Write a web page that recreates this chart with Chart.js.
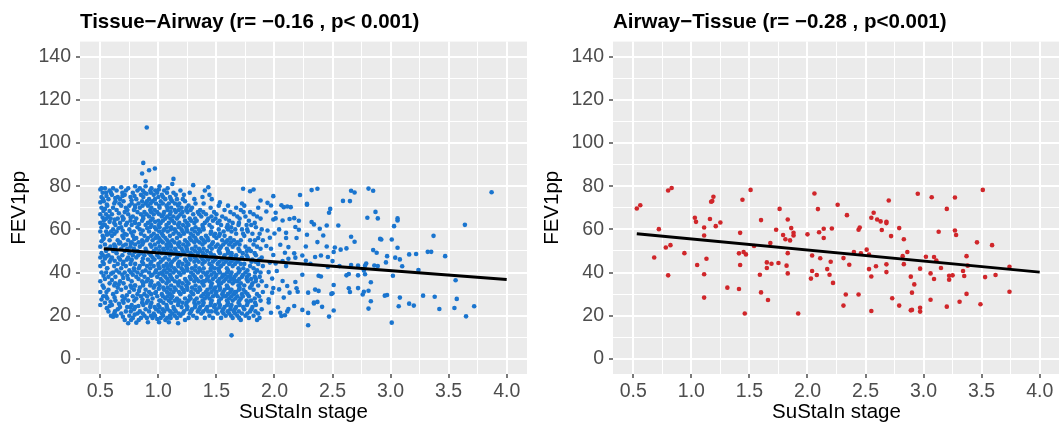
<!DOCTYPE html>
<html>
<head>
<meta charset="utf-8">
<script src="https://cdn.jsdelivr.net/npm/chart.js@4.4.1/dist/chart.umd.min.js"></script>
<style>
  html, body { margin: 0; padding: 0; background: #fff; overflow: hidden; width: 1059px; height: 426px; }
  canvas { position: absolute; top: 0; }
  #tissueChart { left: 0; }
  #airwayChart { left: 533px; }
</style>
</head>
<body>
<canvas id="tissueChart" width="532" height="426"></canvas>
<canvas id="airwayChart" width="532" height="426"></canvas>
<script>
// axis ticks (major + minor grid)
const xGrid = [0.5, 0.75, 1, 1.25, 1.5, 1.75, 2, 2.25, 2.5, 2.75, 3, 3.25, 3.5, 3.75, 4];
const xLabels = [0.5, 1, 1.5, 2, 2.5, 3, 3.5, 4];
const yGrid = [0, 10, 20, 30, 40, 50, 60, 70, 80, 90, 100, 110, 120, 130, 140];
const yLabels = [0, 20, 40, 60, 80, 100, 120, 140];

// fitted lines (start / end)
const fitX = [0.53, 4.0];
const tissueFit = [51.0, 36.8];
const airwayFit = [58.0, 40.2];

// Tissue-Airway subjects [stage, FEV1pp]
const tissue = [
  [0.50,25],[0.51,27.5],[0.50,31],[0.52,34],[0.50,36],[0.51,40],[0.50,43],[0.52,45],[0.50,47],[0.51,49],[0.50,52],[0.51,54.5],[0.52,57],[0.50,59],[0.51,61],[0.50,63],[0.52,65.5],[0.50,67],[0.51,70],[0.50,72.5],[0.51,75],[0.52,77],[0.50,78.5],[0.51,79],
  [0.54,26],[0.55,29],[0.53,33],[0.54,37],[0.55,40],[0.53,44],[0.54,46.5],[0.55,50],[0.54,53],[0.53,56],[0.55,59],[0.54,62],[0.53,64],[0.55,67],[0.54,69.5],[0.53,73],[0.55,77],[0.54,79],
  [0.57,22],[0.58,24.5],[0.56,28],[0.57,32],[0.58,35],[0.57,38],[0.56,42],[0.58,45],[0.57,48],[0.56,51],[0.58,55],[0.57,58],[0.56,61],[0.58,63.5],[0.57,66],[0.58,68.5],[0.56,71],[0.57,74],[0.58,78],
  [0.61,19.5],[0.62,21],[0.60,25],[0.61,30],[0.62,34],[0.60,36.5],[0.61,40],[0.62,43],[0.60,47],[0.61,50],[0.62,53],[0.60,57],[0.61,60],[0.62,63],[0.60,67],[0.61,70],[0.62,72],[0.60,76],[0.61,79],
  [0.64,20],[0.65,23],[0.63,27],[0.64,31],[0.65,33],[0.63,38],[0.64,41],[0.65,44],[0.64,49],[0.63,52],[0.65,55],[0.64,59],[0.63,62],[0.65,65],[0.64,69],[0.63,73],[0.65,75],[0.64,78],
  [0.68,21],[0.67,24],[0.69,29],[0.68,32],[0.67,36],[0.69,39],[0.68,42],[0.67,46],[0.69,48],[0.68,51],[0.67,54],[0.69,57],[0.68,61],[0.67,63],[0.69,66],[0.68,71],[0.67,74],[0.69,77],[0.68,79.5],
  [0.71,18],[0.72,22],[0.70,26],[0.71,28],[0.72,33],[0.70,35],[0.71,40],[0.72,43],[0.70,45],[0.71,50],[0.72,53],[0.70,56],[0.71,58],[0.72,62],[0.70,65],[0.71,68],[0.72,70],[0.70,73],[0.71,76],[0.72,78],
  [0.74,16.5],[0.75,20],[0.76,24],[0.74,27],[0.75,31],[0.76,34],[0.74,37],[0.75,41],[0.76,44],[0.74,47],[0.75,49],[0.76,52],[0.74,55],[0.75,60],[0.76,64],[0.74,67],[0.75,71],[0.76,75],[0.74,79],
  [0.78,19],[0.79,23],[0.77,25],[0.78,29],[0.79,32],[0.77,36],[0.78,39],[0.79,42],[0.77,46],[0.78,48],[0.79,51],[0.77,54],[0.78,57],[0.79,59],[0.77,62],[0.78,66],[0.79,69],[0.77,72],[0.78,77],
  [0.81,16.8],[0.82,21],[0.80,24],[0.81,28],[0.82,30],[0.80,34],[0.81,38],[0.82,40],[0.80,44],[0.81,47],[0.82,50],[0.80,53],[0.81,56],[0.82,61],[0.80,63],[0.81,65],[0.82,68],[0.80,71],[0.81,74],[0.82,78],[0.80,80],
  [0.85,19],[0.84,22],[0.86,26],[0.85,29],[0.84,33],[0.86,36],[0.85,39],[0.84,43],[0.86,45],[0.85,49],[0.84,52],[0.86,55],[0.85,58],[0.84,60],[0.86,64],[0.85,67],[0.84,70],[0.86,73],[0.85,76],[0.84,79],
  [0.88,20],[0.89,23],[0.87,25],[0.88,30],[0.89,32],[0.87,35],[0.88,38],[0.89,41],[0.87,44],[0.88,48],[0.89,51],[0.87,54],[0.88,57],[0.89,62],[0.87,65],[0.88,68],[0.89,72],[0.87,75],[0.88,77],[0.89,80],
  [0.91,17],[0.92,22],[0.93,24],[0.91,27],[0.92,31],[0.93,34],[0.91,37],[0.92,40],[0.93,42],[0.91,46],[0.92,49],[0.93,53],[0.91,56],[0.92,59],[0.93,61],[0.91,63],[0.92,66],[0.93,69],[0.91,71],[0.92,74],[0.93,78],
  [0.95,19],[0.96,21],[0.94,26],[0.95,28],[0.96,33],[0.94,36],[0.95,39],[0.96,43],[0.94,45],[0.95,47],[0.96,50],[0.94,52],[0.95,55],[0.96,58],[0.94,62],[0.95,65],[0.96,67],[0.94,70],[0.95,73],[0.96,76],[0.94,79],
  [0.99,18.5],[0.98,23],[1.00,25],[0.99,29],[0.98,31],[1.00,35],[0.99,38],[0.98,41],[1.00,44],[0.99,48],[0.98,51],[1.00,54],[0.99,57],[0.98,60],[1.00,64],[0.99,68],[0.98,72],[1.00,75],[0.99,77],
  [1.02,19],[1.03,21],[1.01,24],[1.02,27],[1.03,30],[1.01,34],[1.02,37],[1.03,40],[1.01,42],[1.02,45],[1.03,49],[1.01,52],[1.02,55],[1.03,58],[1.01,61],[1.02,63],[1.03,66],[1.01,70],[1.02,73],[1.03,76],[1.01,80],
  [1.06,18],[1.05,22],[1.07,25],[1.06,28],[1.05,32],[1.07,35],[1.06,38],[1.05,41],[1.07,44],[1.06,47],[1.05,50],[1.07,53],[1.06,56],[1.05,60],[1.07,62],[1.06,65],[1.05,68],[1.07,71],[1.06,74],[1.05,78],
  [1.09,17],[1.10,20],[1.08,23],[1.09,27],[1.10,30],[1.08,33],[1.09,36],[1.10,39],[1.08,42],[1.09,46],[1.10,48],[1.08,51],[1.09,54],[1.10,57],[1.08,59],[1.09,63],[1.10,67],[1.08,69],[1.09,72],[1.10,75],[1.08,79],
  [1.12,21],[1.13,24],[1.11,26],[1.12,29],[1.13,31],[1.11,34],[1.12,37],[1.13,40],[1.11,43],[1.12,45],[1.13,49],[1.11,52],[1.12,55],[1.13,58],[1.11,61],[1.12,64],[1.13,66],[1.11,70],[1.12,73],[1.13,77],[1.12,81],[1.13,83.4],
  [1.16,19],[1.15,22],[1.17,25],[1.16,28],[1.15,32],[1.17,35],[1.16,38],[1.15,41],[1.17,44],[1.16,47],[1.15,50],[1.17,53],[1.16,56],[1.15,59],[1.17,62],[1.16,65],[1.15,68],[1.17,71],[1.16,74],[1.15,76],[1.17,16.5],
  [1.19,20],[1.20,24],[1.18,27],[1.19,30],[1.20,33],[1.18,36],[1.19,39],[1.20,42],[1.18,45],[1.19,48],[1.20,51],[1.18,54],[1.19,57],[1.20,60],[1.18,63],[1.19,67],[1.20,70],[1.18,72],[1.19,78],
  [1.23,18],[1.22,22],[1.24,25],[1.23,28],[1.22,31],[1.24,34],[1.23,37],[1.22,40],[1.24,43],[1.23,46],[1.22,49],[1.24,52],[1.23,55],[1.22,58],[1.24,61],[1.23,64],[1.22,66],[1.24,69],[1.23,73],[1.22,76],
  [1.26,19],[1.27,21],[1.25,24],[1.26,27],[1.27,29],[1.25,32],[1.26,35],[1.27,38],[1.25,41],[1.26,44],[1.27,47],[1.25,50],[1.26,53],[1.27,56],[1.25,59],[1.26,62],[1.27,65],[1.25,68],[1.26,71],[1.27,77],
  [1.30,20],[1.29,23],[1.31,26],[1.30,30],[1.29,33],[1.31,36],[1.30,39],[1.29,42],[1.31,45],[1.30,48],[1.29,51],[1.31,54],[1.30,57],[1.29,60],[1.31,63],[1.30,67],[1.29,70],[1.31,74],[1.30,80.5],
  [1.33,19],[1.34,22],[1.32,25],[1.33,28],[1.34,31],[1.32,34],[1.33,37],[1.34,40],[1.32,43],[1.33,46],[1.34,49],[1.32,52],[1.33,55],[1.34,58],[1.32,61],[1.33,64],[1.34,68],[1.32,72],
  [1.37,21],[1.36,24],[1.38,27],[1.37,29],[1.36,32],[1.38,35],[1.37,38],[1.36,41],[1.38,44],[1.37,47],[1.36,50],[1.38,53],[1.37,56],[1.36,59],[1.38,62],[1.37,66],[1.36,69],[1.38,75],
  [1.40,19],[1.41,23],[1.39,26],[1.40,28],[1.41,31],[1.39,34],[1.40,36],[1.41,39],[1.39,42],[1.40,45],[1.41,48],[1.39,51],[1.40,54],[1.41,57],[1.39,60],[1.40,63],[1.41,67],[1.39,72],[1.40,78],
  [1.44,20],[1.43,22],[1.45,25],[1.44,28],[1.43,30],[1.45,33],[1.44,36],[1.43,38],[1.45,41],[1.44,44],[1.43,46],[1.45,49],[1.44,52],[1.43,55],[1.45,58],[1.44,62],[1.43,65],[1.45,70],[1.44,76],[1.43,79.5],
  [1.47,19],[1.48,24],[1.46,27],[1.47,29],[1.48,32],[1.46,35],[1.47,37],[1.48,40],[1.46,43],[1.47,45],[1.48,48],[1.46,51],[1.47,54],[1.48,57],[1.46,61],[1.47,64],[1.48,68],[1.46,74],
  [1.51,21],[1.50,23],[1.52,26],[1.51,29],[1.50,31],[1.52,34],[1.51,36],[1.50,39],[1.52,41],[1.51,44],[1.50,47],[1.52,50],[1.51,53],[1.50,56],[1.52,60],[1.51,63],[1.50,67],[1.52,71],
  [1.54,19],[1.55,22],[1.53,25],[1.54,28],[1.55,30],[1.53,33],[1.54,35],[1.55,38],[1.53,40],[1.54,43],[1.55,46],[1.53,49],[1.54,52],[1.55,55],[1.53,58],[1.54,62],[1.55,66],[1.53,72.5],
  [1.58,20],[1.57,24],[1.59,27],[1.58,29],[1.57,32],[1.59,34],[1.58,37],[1.57,39],[1.59,42],[1.58,45],[1.57,48],[1.59,51],[1.58,54],[1.57,57],[1.59,61],[1.58,65],[1.57,69],
  [1.61,21],[1.62,23],[1.60,26],[1.61,28],[1.62,31],[1.60,33],[1.61,36],[1.62,38],[1.60,41],[1.61,44],[1.62,47],[1.60,50],[1.61,53],[1.62,56],[1.60,60],[1.61,64],[1.62,68],[1.60,71],
  [1.64,19],[1.65,22],[1.63,25],[1.64,27],[1.65,30],[1.63,32],[1.64,35],[1.65,37],[1.63,40],[1.64,43],[1.65,46],[1.63,49],[1.64,52],[1.65,55],[1.63,59],[1.64,63],[1.65,67],[1.63,10.9],
  [1.68,20],[1.67,24],[1.69,26],[1.68,29],[1.67,31],[1.69,34],[1.68,36],[1.67,39],[1.69,42],[1.68,45],[1.67,48],[1.69,51],[1.68,54],[1.67,58],[1.69,62],[1.68,66],[1.67,70],
  [1.71,18],[1.72,21],[1.70,25],[1.71,28],[1.72,30],[1.70,33],[1.71,35],[1.72,38],[1.70,41],[1.71,44],[1.72,47],[1.70,50],[1.71,55],[1.72,60],[1.70,65],[1.71,69],[1.72,72],[1.73,78.8],
  [1.75,20],[1.74,23],[1.76,27],[1.75,31],[1.74,34],[1.76,37],[1.75,40],[1.74,44],[1.76,48],[1.75,52],[1.74,57],[1.76,62],[1.75,66],[1.74,71],
  [1.78,19],[1.79,22],[1.77,26],[1.78,29],[1.79,33],[1.77,36],[1.78,39],[1.79,43],[1.77,47],[1.78,51],[1.79,55],[1.77,59],[1.78,64],[1.79,68],[1.79,77.7],
  [1.82,20],[1.81,24],[1.83,28],[1.82,32],[1.81,35],[1.83,38],[1.82,42],[1.81,46],[1.83,49],[1.82,53],[1.81,58],[1.83,63],[1.82,67],[1.82,78.5],
  [1.85,18],[1.86,21],[1.84,25],[1.85,30],[1.86,34],[1.84,37],[1.85,41],[1.86,44],[1.84,48],[1.85,52],[1.86,56],[1.84,61],[1.85,66],[1.86,70],
  [1.89,23],[1.88,27],[1.90,31],[1.89,36],[1.88,40],[1.90,43],[1.89,47],[1.88,51],[1.90,55],[1.89,60],[1.88,65],[1.88,73.4],
  // in-between subjects of the dense cloud
  [0.525,29],[0.528,38.5],[0.522,48],[0.526,55.5],[0.524,62],[0.527,68.5],[0.523,74],
  [0.556,23.5],[0.553,31],[0.558,42],[0.554,47.5],[0.557,57.5],[0.552,65],[0.556,71.5],[0.553,75.5],
  [0.592,20],[0.588,26.5],[0.594,39.5],[0.590,46],[0.587,52],[0.593,59],[0.589,65],[0.591,77],
  [0.626,22],[0.623,28.5],[0.628,35],[0.624,45.5],[0.627,51.5],[0.622,58],[0.625,64.5],[0.629,74.5],
  [0.661,25.5],[0.658,34.5],[0.663,40],[0.659,47],[0.662,53.5],[0.657,60.5],[0.660,67.5],[0.664,72],
  [0.695,19.5],[0.692,27],[0.698,37.5],[0.694,44],[0.697,52.5],[0.693,59.5],[0.696,64.5],[0.691,75.5],
  [0.731,24],[0.728,29.5],[0.733,38.5],[0.729,46],[0.732,51],[0.727,57.5],[0.730,63],[0.734,69],
  [0.765,18],[0.762,22],[0.768,33],[0.764,40],[0.767,45.5],[0.763,53.5],[0.766,58.5],[0.761,65.5],[0.769,73.5],
  [0.796,20.5],[0.793,27],[0.798,34],[0.794,41],[0.797,49.5],[0.792,55.5],[0.795,63.5],[0.799,70],[0.794,75.5],
  [0.831,18],[0.828,24.5],[0.833,31.5],[0.829,37],[0.832,42],[0.827,48],[0.830,54],[0.834,62.5],[0.829,72],
  [0.866,21],[0.863,27.5],[0.868,34],[0.864,40.5],[0.867,46.5],[0.862,53],[0.865,59.5],[0.869,66],[0.864,71],[0.867,78],
  [0.901,19],[0.898,26],[0.903,29],[0.899,36],[0.902,43],[0.897,50],[0.900,55],[0.904,60.5],[0.899,67],[0.902,73],[0.898,76.5],
  [0.936,20],[0.933,25],[0.938,30],[0.934,35],[0.937,38.5],[0.932,44],[0.935,48],[0.939,57],[0.934,64],[0.937,68],[0.933,72],[0.936,77],
  [0.971,20],[0.968,24],[0.973,30.5],[0.969,34],[0.972,40],[0.967,46],[0.970,53],[0.974,56],[0.969,61],[0.972,63.5],[0.968,69],[0.971,74],[0.973,78],
  [1.006,17],[1.003,22],[1.008,27],[1.004,32.5],[1.007,39.5],[1.002,43],[1.005,47],[1.009,50],[1.004,56],[1.007,59],[1.003,62],[1.006,67],[1.008,71],[1.004,78.5],
  [1.041,20],[1.038,23],[1.043,26],[1.039,29],[1.042,33],[1.037,36],[1.040,39],[1.044,43],[1.039,46],[1.042,51],[1.038,54],[1.041,57],[1.043,59.5],[1.039,64],[1.042,67],[1.038,72],[1.041,75],
  [1.076,19],[1.073,24],[1.078,29],[1.074,31],[1.077,37],[1.072,40],[1.075,43],[1.079,49],[1.074,52],[1.077,55],[1.073,61],[1.076,66],[1.078,70],[1.074,77],
  [1.106,19],[1.103,22],[1.108,28],[1.104,32],[1.107,38],[1.102,41],[1.105,44],[1.109,50],[1.104,53],[1.107,60],[1.103,65],[1.106,68],[1.108,74],
  [1.141,20],[1.138,23],[1.143,27],[1.139,33],[1.142,36],[1.137,42],[1.140,46],[1.144,51],[1.139,54],[1.142,60],[1.138,63],[1.141,69],[1.143,72],
  [1.176,21],[1.173,26],[1.178,31],[1.174,34],[1.177,40],[1.172,43],[1.175,49],[1.179,52],[1.174,58],[1.177,61],[1.173,66],[1.176,69],
  [1.211,21],[1.208,26],[1.213,32],[1.209,35],[1.212,41],[1.207,44],[1.210,50],[1.214,53],[1.209,59],[1.212,62],[1.208,68],[1.211,74],
  [1.246,23],[1.243,26],[1.248,33],[1.244,36],[1.247,42],[1.242,45],[1.245,51],[1.249,54],[1.244,60],[1.247,63],[1.243,70],
  [1.281,22],[1.278,28],[1.283,31],[1.279,37],[1.282,40],[1.277,46],[1.280,49],[1.284,55],[1.279,58],[1.282,64],[1.278,69],
  [1.316,24],[1.313,27],[1.318,32],[1.314,38],[1.317,41],[1.312,47],[1.315,50],[1.319,56],[1.314,59],[1.317,65],
  [1.351,23],[1.348,26],[1.353,33],[1.349,36],[1.352,42],[1.347,45],[1.350,51],[1.354,54],[1.349,60],[1.352,67],
  [1.386,22],[1.383,25],[1.388,30],[1.384,36],[1.387,40],[1.382,46],[1.385,49],[1.389,55],[1.384,61],[1.387,68],
  [1.421,24],[1.418,29],[1.423,32],[1.419,37],[1.422,40],[1.417,47],[1.420,50],[1.424,56],[1.419,64],
  [1.456,22],[1.453,26],[1.458,31],[1.454,34],[1.457,39],[1.452,42],[1.455,47],[1.459,53],[1.454,59],[1.457,66],
  [1.491,22],[1.488,25],[1.493,30],[1.489,33],[1.492,38],[1.487,42],[1.490,46],[1.494,52],[1.489,58],[1.492,65],
  [1.526,24],[1.523,27],[1.528,32],[1.524,35],[1.527,37],[1.522,42],[1.525,45],[1.529,51],[1.524,57],[1.527,64],
  [1.561,21],[1.558,23],[1.563,29],[1.559,31],[1.562,36],[1.557,39],[1.560,44],[1.564,47],[1.559,53],[1.562,59],
  [1.596,22],[1.593,25],[1.598,30],[1.594,33],[1.597,38],[1.592,40],[1.595,46],[1.599,49],[1.594,55],[1.597,62],
  [1.626,20],[1.623,24],[1.628,29],[1.624,32],[1.627,37],[1.622,39],[1.625,45],[1.629,48],[1.624,54],[1.627,61],
  [1.661,21],[1.658,23],[1.663,28],[1.659,31],[1.662,36],[1.657,38],[1.660,44],[1.664,47],[1.659,53],[1.662,60],
  [1.696,19],[1.693,22],[1.698,27],[1.694,32],[1.697,37],[1.692,40],[1.695,46],[1.699,53],[1.694,63],
  [1.731,24],[1.728,29],[1.733,32],[1.729,39],[1.732,42],[1.727,49],[1.730,58],[1.734,68],
  [1.766,21],[1.763,25],[1.768,30],[1.764,38],[1.767,41],[1.762,50],[1.765,60],
  [1.801,23],[1.798,27],[1.803,34],[1.799,37],[1.802,45],[1.797,50],[1.800,62],
  [1.836,22],[1.833,26],[1.838,36],[1.834,40],[1.837,45],[1.832,55],
  [1.871,19],[1.868,29],[1.873,38],[1.869,46],[1.872,58],
  [0.90,107.2],[0.87,90.8],[0.92,87.4],[0.97,88.2],[0.89,82.3],[0.86,85.9],
  // sparse tail
  [1.93,52.3],[1.93,33.8],[1.94,72.3],[1.93,68.3],[1.94,59.5],[1.95,27.6],[1.95,26.1],[1.95,40.2],[1.96,56.1],[1.96,44.6],
  [1.97,71.1],[1.97,51.0],[1.98,37.2],[1.98,30.7],[1.97,21.4],[1.99,75.4],[1.99,64.6],[1.99,48.1],[1.99,32.8],[2.00,58.1],
  [2.01,67.7],[2.01,65.1],[2.01,44.2],[2.02,40.7],[2.03,23.9],[2.04,60.0],[2.04,32.2],[2.05,52.9],[2.05,21.4],[2.06,71.2],
  [2.06,19.9],[2.07,64.1],[2.07,45.3],[2.07,36.1],[2.08,70.3],[2.08,28.4],[2.09,49.2],[2.09,20.2],[2.10,58.4],[2.10,56.0],
  [2.10,43.0],[2.11,70.6],[2.11,33.8],[2.11,22.0],[2.12,51.8],[2.12,46.4],[2.12,23.1],[2.13,64.8],[2.13,30.7],[2.14,70.3],
  [2.17,65.2],[2.17,48.9],[2.17,24.5],[2.18,61.1],[2.18,46.9],[2.18,35.6],[2.19,56.0],[2.19,32.7],[2.20,31.1],[2.21,64.0],
  [2.21,59.8],[2.22,75.9],[2.24,47.9],[2.24,39.0],[2.24,22.7],[2.27,52.1],[2.27,45.5],[2.28,71.8],[2.28,71.4],[2.28,57.5],
  [2.29,30.7],[2.29,21.3],[2.29,15.6],[2.31,44.1],[2.32,78.2],[2.32,63.4],[2.34,62.3],[2.34,26.1],[2.34,25.7],[2.35,47.2],
  [2.35,32.1],[2.37,78.8],[2.37,54.1],[2.37,26.4],[2.38,38.5],[2.38,31.5],[2.39,60.3],[2.40,47.9],[2.40,38.2],[2.41,24.1],
  [2.42,57.2],[2.45,61.8],[2.45,52.1],[2.46,47.2],[2.46,42.6],[2.47,67.7],[2.47,19.6],[2.48,69.5],[2.49,30.1],[2.50,45.3],
  [2.50,30.4],[2.51,49.5],[2.51,34.2],[2.51,22.4],[2.52,51.6],[2.55,61.8],[2.56,43.0],[2.57,50.6],[2.59,73.2],[2.62,51.2],
  [2.62,38.7],[2.64,39.3],[2.64,32.7],[2.65,73.1],[2.65,31.0],[2.66,77.9],[2.66,56.6],[2.66,43.5],[2.69,77.1],[2.69,54.3],
  [2.72,43.3],[2.72,38.7],[2.72,32.8],[2.76,29.8],[2.77,41.0],[2.77,31.1],[2.78,43.2],[2.78,39.2],[2.79,44.2],[2.80,65.4],
  [2.81,78.9],[2.81,31.6],[2.81,23.3],[2.83,35.5],[2.83,26.7],[2.85,77.9],[2.85,50.4],[2.86,43.3],[2.87,68.1],[2.88,49.2],
  [2.89,65.1],[2.89,43.0],[2.91,55.6],[2.92,55.3],[2.95,29.3],[2.96,44.7],[2.97,47.6],[2.97,29.6],[3.01,55.3],[3.01,16.8],
  [3.02,38.5],[3.03,61.5],[3.04,46.9],[3.06,65.1],[3.06,64.1],[3.06,51.5],[3.07,24.4],[3.08,46.1],[3.08,28.4],[3.10,42.9],
  [3.16,48.4],[3.16,25.6],[3.20,24.7],[3.22,48.6],[3.24,41.2],[3.28,29.3],[3.32,49.6],[3.35,49.6],[3.37,57.0],[3.38,28.8],
  [3.42,23.1],[3.47,47.6],[3.55,23.6],[3.56,36.4],[3.57,27.8],[3.64,62.1],[3.65,19.7],[3.72,24.4],[3.87,77.2]
];

// Airway-Tissue subjects [stage, FEV1pp]
const airway = [
  [0.53,69.7],[0.56,71.2],[0.68,47.0],[0.72,60.1],[0.78,51.6],[0.80,78.0],[0.83,79.2],[0.82,52.7],[0.80,38.7],[0.94,49.0],
  [1.03,65.4],[1.04,63.5],[1.05,43.5],[1.11,57.2],[1.11,60.9],[1.11,39.2],[1.11,28.4],[1.13,46.4],[1.16,64.8],[1.17,72.8],
  [1.19,75.1],[1.18,73.1],[1.21,61.5],[1.25,63.2],[1.31,33.0],[1.41,32.4],[1.41,48.9],[1.42,58.4],[1.42,43.5],[1.44,73.7],
  [1.45,49.5],[1.47,48.4],[1.46,21.0],[1.51,78.3],[1.54,52.3],[1.59,39.0],[1.60,64.3],[1.60,30.8],[1.65,44.7],[1.65,42.1],
  [1.66,27.3],[1.68,53.7],[1.69,44.1],[1.73,59.8],[1.76,69.5],[1.75,44.4],[1.79,57.4],[1.81,55.4],[1.82,43.2],[1.83,64.6],
  [1.83,49.0],[1.83,39.6],[1.85,54.9],[1.86,60.6],[1.88,58.4],[1.88,57.2],[1.92,21.0],[2.00,57.7],[2.04,47.9],[2.04,40.7],
  [2.03,37.2],[2.06,76.6],[2.08,38.9],[2.09,69.4],[2.10,58.7],[2.11,46.6],[2.14,60.3],[2.14,56.0],[2.17,41.6],[2.20,45.0],
  [2.19,39.0],[2.22,35.2],[2.21,60.4],[2.26,71.4],[2.31,46.7],[2.31,24.7],[2.33,29.8],[2.34,66.6],[2.36,43.6],[2.40,49.5],
  [2.44,59.8],[2.45,60.9],[2.44,29.8],[2.46,48.9],[2.51,50.6],[2.53,41.6],[2.53,48.3],[2.55,38.2],[2.55,65.4],[2.57,67.7],
  [2.55,22.2],[2.59,42.9],[2.60,64.6],[2.63,63.7],[2.64,59.7],[2.68,62.9],[2.68,63.5],[2.68,43.8],[2.68,40.2],[2.70,73.4],
  [2.72,56.9],[2.73,28.1],[2.79,60.6],[2.79,24.7],[2.83,55.4],[2.82,47.6],[2.83,43.9],[2.86,49.5],[2.89,38.1],[2.89,22.5],
  [2.90,22.7],[2.90,30.7],[2.92,34.5],[2.95,76.5],[2.97,41.8],[2.97,23.7],[2.97,21.9],[3.02,47.3],[3.06,27.4],[3.06,39.6],
  [3.07,74.9],[3.09,47.2],[3.09,37.0],[3.11,45.6],[3.13,58.9],[3.15,42.1],[3.20,69.5],[3.20,24.2],[3.22,38.5],[3.22,36.7],
  [3.25,38.7],[3.27,74.8],[3.27,59.5],[3.28,57.4],[3.31,26.5],[3.34,40.7],[3.35,38.4],[3.37,47.6],[3.37,30.1],[3.38,43.2],
  [3.46,54.0],[3.49,25.3],[3.51,78.3],[3.53,37.9],[3.59,52.7],[3.62,38.9],[3.74,42.7],[3.74,31.1]
];

const FONT = '"Liberation Sans", Arial, Helvetica, sans-serif';
const onStep = (v, step) => Math.abs(v / step - Math.round(v / step)) < 1e-6;

const panelBg = {
  id: 'panelBg',
  beforeDraw(chart) {
    const { ctx, chartArea: a } = chart;
    ctx.save();
    ctx.fillStyle = '#EBEBEB';
    ctx.fillRect(a.left, a.top, a.right - a.left, a.bottom - a.top);
    ctx.restore();
  }
};

function makeChart(id, title, pts, fitY, color) {
  return new Chart(document.getElementById(id), {
    type: 'scatter',
    data: {
      datasets: [{
        type: 'line',
        data: fitX.map((x, i) => ({ x: x, y: fitY[i] })),
        borderColor: '#000',
        borderWidth: 3,
        pointRadius: 0,
        fill: false
      }, {
        data: pts.map(p => ({ x: p[0], y: p[1] })),
        backgroundColor: color,
        pointRadius: 2.3,
        pointBorderWidth: 0
      }]
    },
    options: {
      responsive: false,
      animation: false,
      layout: { padding: { top: 0, right: 5, bottom: 0, left: 0 } },
      plugins: {
        legend: { display: false },
        tooltip: { enabled: false },
        title: {
          display: true,
          text: title,
          align: 'start',
          fullSize: false,
          color: '#000',
          font: { family: FONT, size: 20.5, weight: 'bold' },
          padding: { top: 10, bottom: 7 }
        }
      },
      scales: {
        x: {
          type: 'linear',
          min: 0.325,
          max: 4.175,
          afterBuildTicks: s => { s.ticks = xGrid.map(v => ({ value: v })); },
          afterFit: s => { s.height = 52; },
          border: { display: false },
          grid: {
            color: '#fff',
            lineWidth: c => onStep(c.tick.value, 0.5) ? 2 : 1,
            tickColor: c => onStep(c.tick.value, 0.5) ? '#333' : 'rgba(0,0,0,0)',
            tickLength: 4,
            tickWidth: 1.3
          },
          ticks: {
            autoSkip: false,
            maxRotation: 0,
            padding: 2,
            color: '#4D4D4D',
            font: { family: FONT, size: 19.5 },
            callback: v => xLabels.includes(v) ? v.toFixed(1) : ''
          },
          title: {
            display: true,
            text: 'SuStaIn stage',
            color: '#000',
            font: { family: FONT, size: 20.5 },
            padding: { top: 0, bottom: 1 }
          }
        },
        y: {
          type: 'linear',
          min: -7,
          max: 147,
          afterBuildTicks: s => { s.ticks = yGrid.map(v => ({ value: v })); },
          afterFit: s => { s.width = 80; },
          border: { display: false },
          grid: {
            color: '#fff',
            lineWidth: c => onStep(c.tick.value, 20) ? 2 : 1,
            tickColor: c => onStep(c.tick.value, 20) ? '#333' : 'rgba(0,0,0,0)',
            tickLength: 4,
            tickWidth: 1.3
          },
          ticks: {
            autoSkip: false,
            padding: 5,
            color: '#4D4D4D',
            font: { family: FONT, size: 19.5 },
            callback: v => yLabels.includes(v) ? String(v) : ''
          },
          title: {
            display: true,
            text: 'FEV1pp',
            color: '#000',
            font: { family: FONT, size: 20.5 },
            padding: { top: 7, bottom: 0 }
          }
        }
      }
    },
    plugins: [panelBg]
  });
}

makeChart('tissueChart', 'Tissue\u2212Airway (r= \u22120.16 , p< 0.001)', tissue, tissueFit, '#1A75CF');
makeChart('airwayChart', 'Airway\u2212Tissue (r= \u22120.28 , p<0.001)', airway, airwayFit, '#D0262A');
</script>
</body>
</html>
